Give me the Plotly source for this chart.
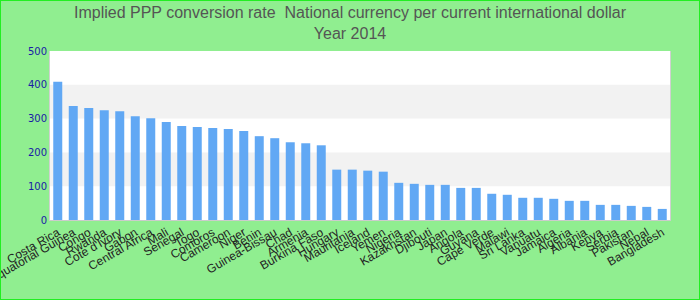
import plotly.graph_objects as go

countries = ["Costa Rica", "Equatorial Guinea", "Congo", "Rwanda", "Cote d'Ivory", "Gabon",
             "Central Africa", "Mali", "Senegal", "Togo", "Comoros", "Cameroon", "Niger",
             "Benin", "Guinea-Bissau", "Chad", "Armenia", "Burkina Faso", "Hungary",
             "Mauritania", "Iceland", "Yemen", "Nigeria", "Kazakhstan", "Djibouti", "Japan",
             "Angola", "Guyana", "Cape Verde", "Malawi", "Sri Lanka", "Vanuatu", "Jamaica",
             "Algeria", "Albania", "Kenya", "Serbia", "Pakistan", "Nepal", "Bangladesh"]
values = [409, 337, 331, 325, 322, 307, 301, 290, 278, 275, 272, 269, 263, 248, 242, 230,
          227, 221, 149, 149, 146, 143, 110, 107, 104, 104, 95, 95, 77.6, 74.6, 65.7, 65.7,
          62.7, 56.7, 56.7, 44.8, 44.8, 41.8, 38.8, 32.8]
y_ticks = [0, 100, 200, 300, 400, 500]
bands = [(100, 200), (300, 400)]

fig = go.Figure(go.Bar(x=countries, y=values, marker=dict(color="#61a8f4", line=dict(width=0)),
                       hoverinfo="x+y"))

W, H, L, R, T, B = 700, 300, 50, 30, 51, 80
pw, ph = W - L - R, H - T - B

shapes = []
for lo, hi in bands:
    shapes.append(dict(type="rect", xref="paper", yref="y", x0=0, x1=1, y0=lo, y1=hi,
                       fillcolor="#f2f2f2", line=dict(width=0), layer="below"))
shapes.append(dict(type="rect", xref="paper", yref="paper",
                   x0=-L / pw, x1=1 + R / pw, y0=-B / ph, y1=1 + T / ph,
                   line=dict(color="#22ee22", width=2), fillcolor="rgba(0,0,0,0)"))

fig.update_layout(
    width=W, height=H,
    margin=dict(l=L, r=R, t=T, b=B, autoexpand=False),
    paper_bgcolor="#90ee90",
    plot_bgcolor="white",
    bargap=0.42,
    showlegend=False,
    title=dict(text="Implied PPP conversion rate  National currency per current international dollar<br>Year 2014",
               x=0.5, xanchor="center", y=0.94, yanchor="top",
               font=dict(family="Liberation Sans, Arial", size=16, color="#555555")),
    shapes=shapes,
    xaxis=dict(tickangle=-30, automargin=False,
               tickfont=dict(family="Liberation Sans, Arial", size=12, color="#222222"),
               showgrid=False, showline=True, linecolor="#cccccc", mirror=False, ticks="",
               range=[-0.5, len(countries) - 0.5]),
    yaxis=dict(range=[0, 500], tickvals=y_ticks, showgrid=False, zeroline=False, automargin=False,
               tickfont=dict(family="DejaVu Sans", size=10, color="#1a1aa6"),
               showline=True, linecolor="#d0d0d0", mirror=True, ticks="", ticklen=0),
)

fig.write_html("out.html")
